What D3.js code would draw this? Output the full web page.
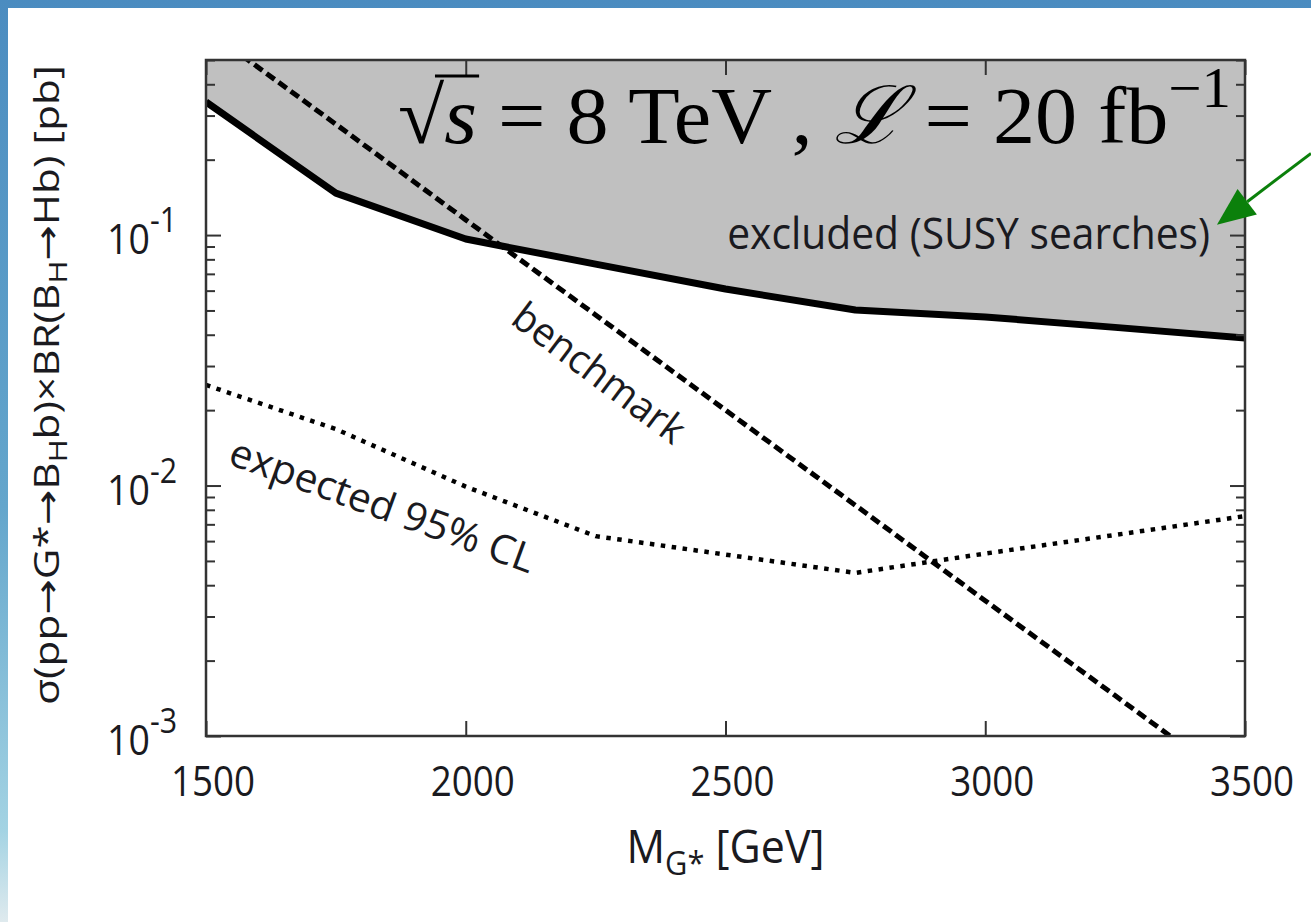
<!DOCTYPE html>
<html>
<head>
<meta charset="utf-8">
<script src="https://cdn.jsdelivr.net/npm/d3@7"></script>
<style>
  html, body { margin: 0; padding: 0; background: #fff; }
  svg { display: block; }
  .sans { font-family: "Open Sans", "DejaVu Sans", sans-serif; fill: #1a1a20; }
  .serif { font-family: "Liberation Serif", "DejaVu Serif", serif; fill: #000; }
</style>
</head>
<body>
<svg id="chart"></svg>
<script>
const width = 1311;
const height = 922;

const masses = [1500, 1750, 2000, 2250, 2500, 2750, 3000, 3250, 3500];
// sigma x BR in pb
const excluded_susy = [0.340, 0.147, 0.0964, 0.0766, 0.0609, 0.0502, 0.0471, 0.0428, 0.0388];
const expected_95 = [0.0252, 0.0168, 0.0099, 0.00628, 0.0053, 0.00448, 0.00535, 0.00635, 0.00755];
const benchmark = [0.664, 0.277, 0.115, 0.048, 0.0200, 0.00834, 0.00347, 0.00145, 0.000603];

const x_ticks = [1500, 2000, 2500, 3000, 3500];
const y_majors = [1e-3, 1e-2, 1e-1];
const y_exponents = ['-3', '-2', '-1'];

// plot box in px
const plot = { left: 206, right: 1245, top: 60, bottom: 736 };
const tick_major = 15;
const tick_minor = 9;

const svg = d3.select('#chart')
    .attr('width', width)
    .attr('height', height);

// blue slide frame peeking out top + left
const defs = svg.append('defs');
const grad = defs.append('linearGradient')
    .attr('id', 'slide_bg')
    .attr('x1', 0).attr('y1', 0).attr('x2', 0).attr('y2', 1);
grad.append('stop').attr('offset', 0).attr('stop-color', '#4b8cc0');
grad.append('stop').attr('offset', 0.55).attr('stop-color', '#64a6cc');
grad.append('stop').attr('offset', 0.9).attr('stop-color', '#a3d3e3');
grad.append('stop').attr('offset', 1).attr('stop-color', '#dfeaee');

svg.append('rect')
    .attr('width', width).attr('height', height)
    .attr('fill', 'url(#slide_bg)');
svg.append('rect')
    .attr('x', 8).attr('y', 8)
    .attr('width', width - 8).attr('height', height - 8)
    .attr('fill', '#fff');

defs.append('clipPath').attr('id', 'plot_clip')
  .append('rect')
    .attr('x', plot.left).attr('y', plot.top)
    .attr('width', plot.right - plot.left)
    .attr('height', plot.bottom - plot.top);

const x = d3.scaleLinear().domain([1500, 3500]).range([plot.left, plot.right]);
const y = d3.scaleLog().domain([1e-3, 0.5]).range([plot.bottom, plot.top]);

const rows = masses.map((m, i) => ({
  m: m,
  excl: excluded_susy[i],
  exp: expected_95[i],
  bench: benchmark[i],
}));

const marks = svg.append('g').attr('clip-path', 'url(#plot_clip)');

// grey excluded band, from the solid line up to the top
marks.append('path')
    .datum(rows)
    .attr('fill', '#c0c0c0')
    .attr('d', d3.area()
      .x((d) => x(d.m))
      .y0(plot.top)
      .y1((d) => y(d.excl)));

marks.append('path')
    .datum(rows)
    .attr('fill', 'none')
    .attr('stroke', '#000')
    .attr('stroke-width', 4.5)
    .attr('stroke-dasharray', '4.5,6.5')
    .attr('d', d3.line().x((d) => x(d.m)).y((d) => y(d.exp)));

marks.append('path')
    .datum(rows)
    .attr('fill', 'none')
    .attr('stroke', '#000')
    .attr('stroke-width', 5)
    .attr('stroke-dasharray', '10,5')
    .attr('d', d3.line().x((d) => x(d.m)).y((d) => y(d.bench)));

marks.append('path')
    .datum(rows)
    .attr('fill', 'none')
    .attr('stroke', '#000')
    .attr('stroke-width', 7)
    .attr('stroke-linejoin', 'round')
    .attr('d', d3.line().x((d) => x(d.m)).y((d) => y(d.excl)));

// ticks on all four sides, pointing in
const axes = svg.append('g');
const y_minors = y.ticks().filter((t) => !y_majors.some((m) => Math.abs(m - t) / m < 1e-6));

function tick_axis(axis, tx, ty) {
  const g = axes.append('g')
      .attr('transform', `translate(${tx},${ty})`)
      .call(axis.tickFormat('').tickSizeOuter(0));
  g.select('.domain').remove();
  g.selectAll('.tick line').attr('stroke', '#333').attr('stroke-width', 2);
}

tick_axis(d3.axisBottom(x).tickValues(x_ticks).tickSize(-tick_major), 0, plot.bottom);
tick_axis(d3.axisTop(x).tickValues(x_ticks).tickSize(-tick_major), 0, plot.top);
tick_axis(d3.axisLeft(y).tickValues(y_majors).tickSize(-tick_major), plot.left, 0);
tick_axis(d3.axisLeft(y).tickValues(y_minors).tickSize(-tick_minor), plot.left, 0);
tick_axis(d3.axisRight(y).tickValues(y_majors).tickSize(-tick_major), plot.right, 0);
tick_axis(d3.axisRight(y).tickValues(y_minors).tickSize(-tick_minor), plot.right, 0);

axes.append('rect')
    .attr('x', plot.left).attr('y', plot.top)
    .attr('width', plot.right - plot.left)
    .attr('height', plot.bottom - plot.top)
    .attr('fill', 'none')
    .attr('stroke', '#333')
    .attr('stroke-width', 2.5);

// text helper: the source picture is squashed, so every label gets
// squeezed/stretched along its baseline to the length it has in the picture
function label(px, py, angle, cls, size) {
  const g = svg.append('g')
      .attr('transform', `translate(${px},${py}) rotate(${angle})`);
  return g.append('text')
      .attr('class', cls)
      .attr('font-size', size);
}

function fit(text, target_len) {
  const len = text.node().getComputedTextLength();
  const g = d3.select(text.node().parentNode);
  g.attr('transform', `${g.attr('transform')} scale(${target_len / len},1)`);
}

x_ticks.forEach((t) => {
  const txt = label(x(t) + 7, plot.bottom + 60, 0, 'sans', 42)
      .attr('text-anchor', 'middle')
      .text(t);
  fit(txt, 84);
});

y_majors.forEach((t, i) => {
  const txt = label(177, y(t) + 19, 0, 'sans', 42)
      .attr('text-anchor', 'end');
  txt.append('tspan').text('10');
  txt.append('tspan')
      .attr('font-size', 34)
      .attr('dy', -22)
      .text(y_exponents[i]);
  fit(txt, 70);
});

// axis titles
const x_title = label((plot.left + plot.right) / 2, 863, 0, 'sans', 46)
    .attr('text-anchor', 'middle');
x_title.append('tspan').text('M');
x_title.append('tspan').attr('font-size', 33).attr('dy', 12).text('G*');
x_title.append('tspan').attr('dy', -12).text(' [GeV]');
fit(x_title, 198);

const y_title = label(59, 385, -90, 'sans', 34)
    .attr('text-anchor', 'middle');
y_title.append('tspan').text('σ(pp→G*→B');
y_title.append('tspan').attr('font-size', 25).attr('dy', 8).text('H');
y_title.append('tspan').attr('dy', -8).text('b)×BR(B');
y_title.append('tspan').attr('font-size', 25).attr('dy', 8).text('H');
y_title.append('tspan').attr('dy', -8).text('→Hb) [pb]');
fit(y_title, 640);

// in-plot annotations
const energy = label(398, 143, 0, 'serif', 80);
energy.append('tspan').text('√');
energy.append('tspan').attr('font-style', 'italic').text('s');
energy.append('tspan').text(' = 8 TeV , ');
energy.append('tspan').attr('font-style', 'italic').text('ℒ');
energy.append('tspan').text(' = 20 fb');
energy.append('tspan').attr('font-size', 56).attr('dy', -36).text('−1');
fit(energy, 834);

// bar over the s of the root sign
{
  const node = energy.node();
  const root = node.getExtentOfChar(0);
  const s = node.getExtentOfChar(1);
  d3.select(node.parentNode).append('line')
      .attr('x1', root.x + root.width * 0.8)
      .attr('x2', s.x + s.width + 2)
      .attr('y1', root.y + 4)
      .attr('y2', root.y + 4)
      .attr('stroke', '#000')
      .attr('stroke-width', 3);
}

const excl_txt = label(1210, 249, 0, 'sans', 43)
    .attr('text-anchor', 'end')
    .text('excluded (SUSY searches)');
fit(excl_txt, 483);

const bench_txt = label(600, 372, 37, 'sans', 40)
    .attr('text-anchor', 'middle')
    .attr('dominant-baseline', 'central')
    .text('benchmark');
fit(bench_txt, 205);

const exp_txt = label(383, 504, 20, 'sans', 40)
    .attr('text-anchor', 'middle')
    .attr('dominant-baseline', 'central')
    .text('expected 95% CL');
fit(exp_txt, 322);

// green arrow pointing at the excluded label
const arrow_tip = [x(3446), y(0.11)];
const arrow_tail = [width, y(0.212)];
const ang = Math.atan2(arrow_tip[1] - arrow_tail[1], arrow_tip[0] - arrow_tail[0]);
const head_len = 38;
const head_half = 16;
const base = [arrow_tip[0] - head_len * Math.cos(ang), arrow_tip[1] - head_len * Math.sin(ang)];

svg.append('line')
    .attr('x1', arrow_tail[0]).attr('y1', arrow_tail[1])
    .attr('x2', base[0]).attr('y2', base[1])
    .attr('stroke', '#0b800b')
    .attr('stroke-width', 3);
svg.append('polygon')
    .attr('fill', '#0b800b')
    .attr('points', [
      arrow_tip,
      [base[0] - head_half * Math.sin(ang), base[1] + head_half * Math.cos(ang)],
      [base[0] + head_half * Math.sin(ang), base[1] - head_half * Math.cos(ang)],
    ].map((p) => p.join(',')).join(' '));
</script>
</body>
</html>
